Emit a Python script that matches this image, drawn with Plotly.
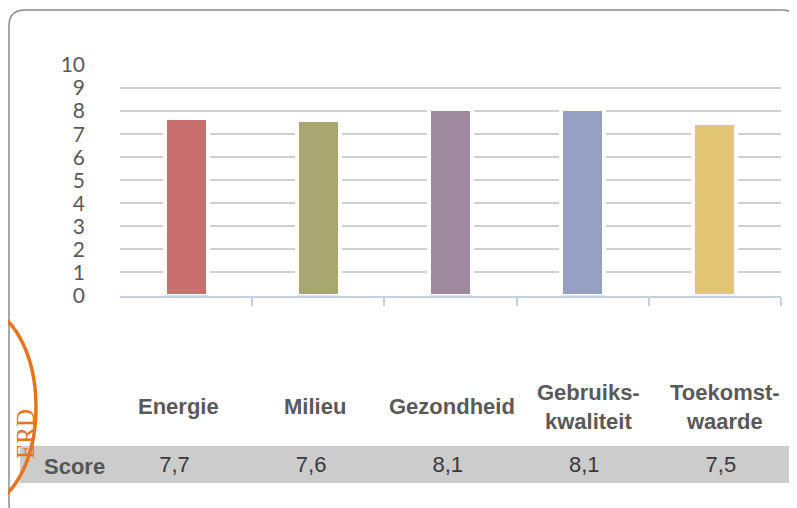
import plotly.graph_objects as go

# ---- data ----
categories = ["Energie", "Milieu", "Gezondheid", "Gebruiks-<br>kwaliteit", "Toekomst-<br>waarde"]
scores = [7.7, 7.6, 8.1, 8.1, 7.5]
bar_colors = ["#C9706E", "#A8A772", "#9E899F", "#96A0C2", "#E3C673"]
y_ticks = list(range(0, 11))
row_label = "Score"
score_text = [f"{v:.1f}".replace(".", ",") for v in scores]

# ---- layout geometry ----
OFF = 8                      # page body margin of the browser
W, H = 797 - OFF, 508 - OFF  # figure size
L, R, T, B = 112, 16, 57, 25
PW, PH = W - L - R, H - T - B


def px(x):
    """reference-window pixel x -> paper x"""
    return (x - OFF - L) / PW


def py(y):
    """reference-window pixel y -> paper y"""
    return (H - B - (y - OFF)) / PH


idx = list(range(len(categories)))

fig = go.Figure()
fig.add_trace(go.Bar(
    x=idx, y=scores,
    marker=dict(color=bar_colors, line=dict(color="white", width=4)),
    width=0.325, showlegend=False, hoverinfo="skip",
))
# table values row
fig.add_trace(go.Scatter(
    x=idx, y=[0.165] * len(idx), mode="text", text=score_text,
    textfont=dict(family="Liberation Sans, Arial", size=22, color="#3A3A3A"),
    xaxis="x2", yaxis="y2", showlegend=False, hoverinfo="skip", cliponaxis=False,
))

axis_col = "#C3D1E3"
fig.update_layout(
    width=W, height=H,
    margin=dict(l=L, r=R, t=T, b=B, pad=0),
    paper_bgcolor="white", plot_bgcolor="white",
    bargap=0,
    xaxis=dict(
        range=[-0.5, 4.5], domain=[0, 1], anchor="y",
        tickvals=[0.5, 1.5, 2.5, 3.5, 4.5], ticktext=["", "", "", "", ""],
        ticks="outside", ticklen=8, tickwidth=2, tickcolor=axis_col,
        showline=True, linecolor=axis_col, linewidth=2,
        showgrid=False, zeroline=False, fixedrange=True,
    ),
    yaxis=dict(
        range=[0, 10], domain=[py(295.5), 1], anchor="x",
        tickvals=y_ticks, ticks="", ticklabelstandoff=34,
        tickfont=dict(family="Lato", size=21, color="#595959"),
        showgrid=True, gridcolor="#D0D0D0", gridwidth=2,
        zeroline=False, showline=False, fixedrange=True,
    ),
    xaxis2=dict(
        range=[(L + OFF - 174.5) / 136.6, (W - R + OFF - 174.5) / 136.6],
        overlaying="x", anchor="y2", visible=False, fixedrange=True,
    ),
    yaxis2=dict(
        range=[0, 1], domain=[0, py(380)], anchor="x2",
        visible=False, fixedrange=True,
    ),
)

annotations = []
for i, c in enumerate(categories):
    annotations.append(dict(
        x=i, y=0.738, xref="x2", yref="y2", text=f"<b>{c}</b>", showarrow=False,
        xshift=4, xanchor="center", yanchor="middle",
        font=dict(family="Liberation Sans, Arial", size=22, color="#595959"),
    ))
annotations.append(dict(
    x=px(74), y=0.165, xref="paper", yref="y2", text=f"<b>{row_label}</b>", showarrow=False,
    xanchor="center", yanchor="middle",
    font=dict(family="Liberation Sans, Arial", size=22, color="#555555"),
))
# stamp text
annotations.append(dict(
    x=px(25), y=py(434), xref="paper", yref="paper", text="ERD", showarrow=False,
    textangle=-90, xanchor="center", yanchor="middle",
    font=dict(family="Liberation Serif", size=25, color="#E8731E"),
))
fig.update_layout(annotations=annotations)


def rounded_rect(x0, y0, x1, y1, r):
    pts = [
        f"M {px(x0 + r)} {py(y0)}",
        f"L {px(x1 - r)} {py(y0)}",
        f"Q {px(x1)} {py(y0)} {px(x1)} {py(y0 + r)}",
        f"L {px(x1)} {py(y1 - r)}",
        f"Q {px(x1)} {py(y1)} {px(x1 - r)} {py(y1)}",
        f"L {px(x0 + r)} {py(y1)}",
        f"Q {px(x0)} {py(y1)} {px(x0)} {py(y1 - r)}",
        f"L {px(x0)} {py(y0 + r)}",
        f"Q {px(x0)} {py(y0)} {px(x0 + r)} {py(y0)}",
        "Z",
    ]
    return " ".join(pts)


shapes = [
    # grey table band
    dict(type="rect", xref="paper", yref="paper",
         x0=px(20), x1=px(794), y0=py(483), y1=py(446),
         fillcolor="#CCCCCC", line=dict(width=0), layer="below"),
    # outer frame
    dict(type="path", xref="paper", yref="paper",
         path=rounded_rect(9, 10, 797.5, 520, 16),
         line=dict(color="#8C8C8C", width=1.5), layer="below"),
    # stamp ring
    dict(type="circle", xref="paper", yref="paper",
         x0=px(-79), x1=px(36), y0=py(507), y1=py(307),
         line=dict(color="#E8731E", width=3.5), layer="above"),
]
fig.update_layout(shapes=shapes)

fig.write_html("out.html")
